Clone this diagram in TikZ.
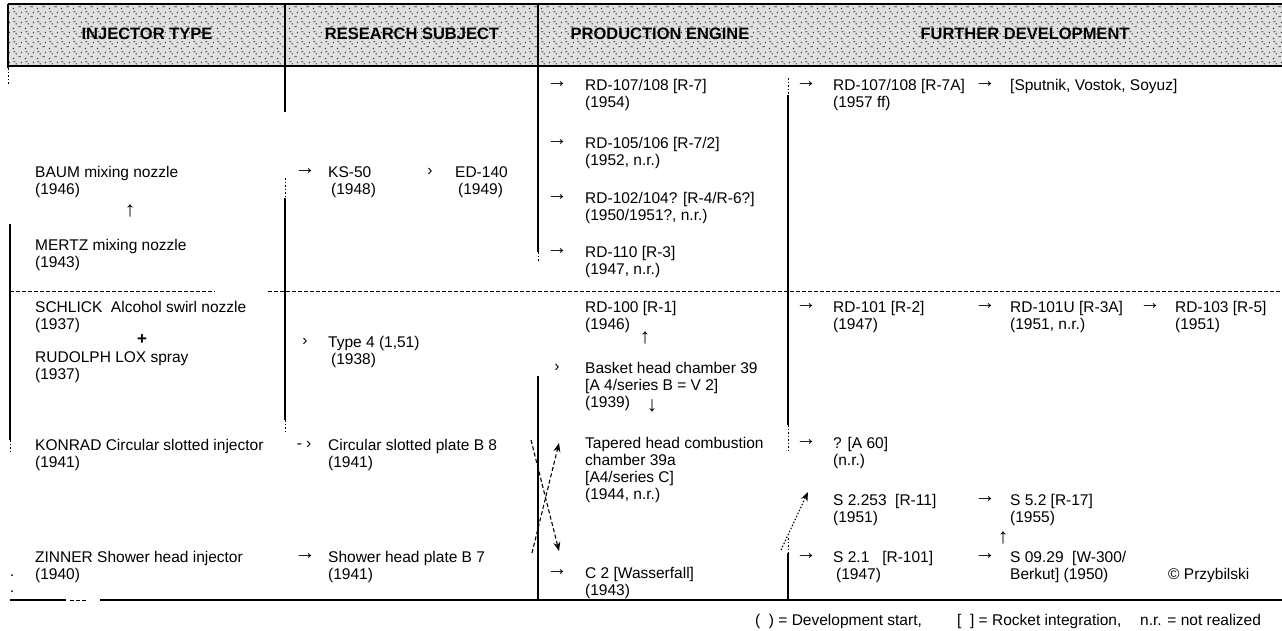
\documentclass[tikz,border=0pt]{standalone}
\usepackage{fontspec}
\setmainfont{Liberation Sans}
\usetikzlibrary{arrows.meta,patterns}
\pgfdeclarepatternformonly{speck}{\pgfpointorigin}{\pgfpoint{12pt}{10pt}}{\pgfpoint{12pt}{10pt}}{%
  \pgfpathrectangle{\pgfpoint{1pt}{1pt}}{\pgfpoint{1.3pt}{1.3pt}}%
  \pgfpathrectangle{\pgfpoint{7pt}{3pt}}{\pgfpoint{2.5pt}{1pt}}%
  \pgfpathrectangle{\pgfpoint{4pt}{6pt}}{\pgfpoint{1.2pt}{1.2pt}}%
  \pgfpathrectangle{\pgfpoint{9.5pt}{7.5pt}}{\pgfpoint{1.2pt}{1.2pt}}%
  \pgfpathrectangle{\pgfpoint{1.5pt}{8.5pt}}{\pgfpoint{2.2pt}{0.9pt}}%
  \pgfusepath{fill}}
\begin{document}
\begin{tikzpicture}[x=1pt,y=-1pt,
  txt/.style={inner sep=0pt,anchor=north west,align=left,font=\fontsize{15.5}{17}\selectfont},
  sym/.style={inner sep=0pt,anchor=center,font=\fontsize{15.5}{17}\selectfont},
  arr/.style={inner sep=0pt,anchor=center,font=\fontsize{21}{21}\selectfont},
  hdr/.style={inner sep=0pt,anchor=center,font=\fontsize{16.5}{17}\selectfont\bfseries},
  rule/.style={line width=1.2pt,black},
  thinrule/.style={line width=0.9pt,black,dash pattern=on 4pt off 2pt},
  dotrule/.style={line width=1pt,black,dash pattern=on 1.5pt off 2pt},
  speckle/.style={fill=black,inner sep=0pt,minimum size=2pt,circle},
  flow/.style={line width=1.1pt,dash pattern=on 4pt off 2.5pt,-{Stealth[length=9pt,width=7pt]}},
  dflow/.style={line width=1.1pt,dash pattern=on 1.5pt off 1.8pt,-{Stealth[length=9pt,width=7pt]}}]
\useasboundingbox (0,0) rectangle (1282,630);
\fill[white] (0,0) rectangle (1282,630);
% header band
\fill[black!12] (8,4) rectangle (1282,66);
\fill[pattern=speck,pattern color=black!80] (8,4) rectangle (1282,66);
\draw[rule] (8,4) -- (1282,4);
\draw[rule] (8,66) -- (1282,66);
\node[hdr] (h1) at (147,34) {INJECTOR TYPE};
\node[hdr] (h2) at (412,34) {RESEARCH SUBJECT};
\node[hdr] (h3) at (660,34) {PRODUCTION ENGINE};
\node[hdr] (h4) at (1025,34) {FURTHER DEVELOPMENT};
% vertical rules
\draw[rule] (8,4) -- (8,68);
\draw[dotrule] (8,68) -- (8,84);
\draw[rule] (10,224) -- (10,440);
\draw[dotrule] (10,440) -- (10,452);
\draw[rule] (285,4) -- (285,112);
\draw[dotrule] (285,178) -- (285,198);
\draw[rule] (285,198) -- (285,420);
\draw[dotrule] (285,420) -- (285,432);
\draw[rule] (538,4) -- (538,252);
\draw[dotrule] (538,252) -- (538,262);
\draw[rule] (538,376) -- (538,600);
\draw[dotrule] (788,78) -- (788,95);
\draw[rule] (788,95) -- (788,425);
\draw[dotrule] (788,425) -- (788,450);
\draw[dotrule] (788,538) -- (788,553);
\draw[rule] (788,553) -- (788,600);
% horizontal rules
\draw[thinrule] (10,291) -- (215,291);
\draw[thinrule] (268,291) -- (1282,291);
\draw[rule] (100,600) -- (1282,600);
\draw[rule] (10,600) -- (66,600);
\draw[thinrule] (70,600) -- (86,600);
\node[speckle] (sp1) at (12,575) {};
\node[speckle] (sp2) at (12,591) {};
% column 1
\node[txt] (baum) at (35,166) {BAUM mixing nozzle\\(1946)};
\node[arr] (up1) at (130,211) {↑};
\node[txt] (mertz) at (35,239) {MERTZ mixing nozzle\\(1943)};
\node[txt] (schlick) at (35,301) {SCHLICK\ \ Alcohol swirl nozzle\\(1937)};
\node[sym,font=\fontsize{17}{17}\selectfont\bfseries] (plus) at (142,340) {+};
\node[txt] (rudolph) at (35,351) {RUDOLPH LOX spray\\(1937)};
\node[txt] (konrad) at (35,439) {KONRAD Circular slotted injector\\(1941)};
\node[txt] (zinner) at (35,551) {ZINNER Shower head injector\\(1940)};
% column 2
\node[arr] (a21) at (305,172) {→};
\node[txt] (ks50) at (328,166) {KS-50\\\hspace*{3pt}(1948)};
\node[sym] (a22) at (430,172) {›};
\node[txt] (ed140) at (455,166) {ED-140\\\hspace*{3pt}(1949)};
\node[sym] (a23) at (305,342) {›};
\node[txt] (type4) at (328,336) {Type 4 (1,51)\\\hspace*{3pt}(1938)};
\node[sym] (a24) at (304,445) {-\hspace{4pt}›};
\node[txt] (b8) at (328,439) {Circular slotted plate B 8\\(1941)};
\node[arr] (a25) at (305,557) {→};
\node[txt] (b7) at (328,551) {Shower head plate B 7\\(1941)};
% column 3
\node[arr] (a31) at (557,85) {→};
\node[txt] (rd107) at (585,79) {RD-107/108 [R-7]\\(1954)};
\node[arr] (a32) at (557,143) {→};
\node[txt] (rd105) at (585,137) {RD-105/106 [R-7/2]\\(1952, n.r.)};
\node[arr] (a33) at (557,198) {→};
\node[txt] (rd102) at (585,192) {RD-102/104? [R-4/R-6?]\\(1950/1951?, n.r.)};
\node[arr] (a34) at (557,252) {→};
\node[txt] (rd110) at (585,246) {RD-110 [R-3]\\(1947, n.r.)};
\node[txt] (rd100) at (585,301) {RD-100 [R-1]\\(1946)};
\node[arr] (up3) at (645,338) {↑};
\node[sym] (a35) at (557,368) {›};
\node[txt] (basket) at (585,362) {Basket head chamber 39\\{}[A 4/series B = V 2]\\(1939)};
\node[arr] (dn3) at (652,406) {↓};
\node[txt] (tapered) at (585,437) {Tapered head combustion\\chamber 39a\\{}[A4/series C]\\(1944, n.r.)};
\node[arr] (a36) at (557,573) {→};
\node[txt] (c2) at (585,567) {C 2 [Wasserfall]\\(1943)};
% column 4
\node[arr] (a41) at (806,85) {→};
\node[txt] (rd107a) at (833,79) {RD-107/108 [R-7A]\\(1957 ff)};
\node[arr] (a42) at (985,85) {→};
\node[txt] (sputnik) at (1010,79) {[Sputnik, Vostok, Soyuz]};
\node[arr] (a43) at (806,307) {→};
\node[txt] (rd101) at (833,301) {RD-101 [R-2]\\(1947)};
\node[arr] (a44) at (985,307) {→};
\node[txt] (rd101u) at (1010,301) {RD-101U [R-3A]\\(1951, n.r.)};
\node[arr] (a45) at (1150,307) {→};
\node[txt] (rd103) at (1175,301) {RD-103 [R-5]\\(1951)};
\node[arr] (a46) at (806,443) {→};
\node[txt] (a60) at (833,437) {? [A 60]\\(n.r.)};
\node[txt] (s2253) at (833,494) {S 2.253\ \ [R-11]\\(1951)};
\node[arr] (a47) at (985,500) {→};
\node[txt] (s52) at (1010,494) {S 5.2 [R-17]\\(1955)};
\node[arr] (up4) at (1003,538) {↑};
\node[arr] (a48) at (806,557) {→};
\node[txt] (s21) at (833,551) {S 2.1\ \ \ [R-101]\\\hspace*{3pt}(1947)};
\node[arr] (a49) at (985,557) {→};
\node[txt] (s0929) at (1010,551) {S 09.29\ \ [W-300/\\Berkut] (1950)};
\node[txt] (przy) at (1168,568) {© Przybilski};
% legend
\node[txt] (leg1) at (755,614) {(\ \ ) = Development start,};
\node[txt] (leg2) at (957,614) {[\ \ ] = Rocket integration,};
\node[txt] (leg3) at (1140,614) {n.r. = not realized};
% dashed connectors
\coordinate (b8end) at (531,440);
\coordinate (b7end) at (532,553);
\coordinate (tapin) at (559,443);
\coordinate (c2in) at (559,551);
\draw[flow] (b8end) -- (c2in);
\draw[flow] (b7end) -- (tapin);
\coordinate (c2out) at (781,550);
\coordinate (s2253in) at (808,492);
\draw[dflow] (c2out) -- (s2253in);
\end{tikzpicture}
\end{document}
